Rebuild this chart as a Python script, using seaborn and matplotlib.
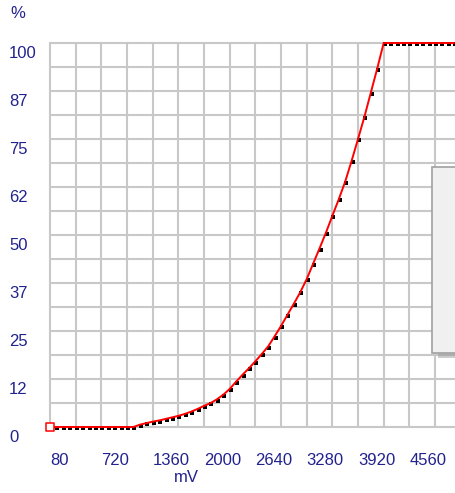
import matplotlib
matplotlib.use("Agg")
import matplotlib.pyplot as plt
import matplotlib.transforms as mtransforms
from matplotlib.patches import Rectangle
import pandas as pd
import seaborn as sns

# Transfer curve: output percentage versus input voltage (80 mV steps)
millivolts = list(range(80, 5121, 80))
percent = [
    0, 0, 0, 0, 0, 0, 0, 0, 0, 0, 0, 0, 0, 0,
    0.6, 1.0, 1.4, 1.7, 2.1, 2.5, 2.9, 3.4, 4.0, 4.7,
    5.5, 6.2, 7.2, 8.4, 9.9, 11.8, 13.6, 15.3, 17.1, 19.0,
    21.0, 23.6, 26.3, 29.2, 32.1, 35.1, 38.5, 42.5, 46.5, 50.6,
    55.0, 59.3, 63.9, 69.3, 75.0, 80.8, 87.1, 93.4, 100,
    100, 100, 100, 100, 100, 100, 100, 100, 100, 100, 100,
]

x_grid = list(range(80, 5121, 320))
y_grid = [i * 6.25 for i in range(17)]
x_labels = ["80", "720", "1360", "2000", "2640", "3280", "3920", "4560"]
x_label_pos = [80, 720, 1360, 2000, 2640, 3280, 3920, 4560]
y_labels = ["100", "87", "75", "62", "50", "37", "25", "12", "0"]
y_label_pos = [100, 87.5, 75, 62.5, 50, 37.5, 25, 12.5, 0]

df = pd.DataFrame({"mV": millivolts, "pct": percent})

sns.set_style("white")
plt.rcParams["font.family"] = ["Liberation Sans", "DejaVu Sans"]

W, H = 455, 493
fig = plt.figure(figsize=(W / 100, H / 100), dpi=100)
ax = fig.add_axes([50 / W, (H - 427) / H, (W - 50) / W, 384 / H])
ax.set_xlim(80, 5129)
ax.set_ylim(0, 100)

for s in ax.spines.values():
    s.set_visible(False)
ax.set_xticks(x_grid)
ax.set_yticks(y_grid)
ax.set_xticklabels([])
ax.set_yticklabels([])
ax.tick_params(length=0)
ax.grid(True, color="#c8c8c8", linewidth=1.5)
ax.set_axisbelow(True)
for gl in ax.get_xgridlines() + ax.get_ygridlines():
    gl.set_clip_on(False)

# black sample markers sit just below/right of the red trace
shadow = mtransforms.offset_copy(ax.transData, fig=fig, x=1, y=-1.2, units="dots")
sns.scatterplot(data=df, x="mV", y="pct", ax=ax, marker="s", s=5,
                color="black", linewidth=0, transform=shadow, zorder=3,
                clip_on=False, legend=False)
sns.lineplot(data=df, x="mV", y="pct", ax=ax, color="#ff0000",
             linewidth=1.4, zorder=4, clip_on=False)
sns.scatterplot(data=df.iloc[:1], x="mV", y="pct", ax=ax, marker="s", s=34,
                facecolor="white", edgecolor="#ff0000", linewidth=1.1,
                zorder=5, clip_on=False, legend=False)
ax.set_xlabel("")
ax.set_ylabel("")

text_color = "#22228e"
fs = 12
xt = mtransforms.offset_copy(ax.get_xaxis_transform(), fig=fig, x=0, y=-26, units="dots")
for pos, lab in zip(x_label_pos, x_labels):
    ax.text(pos, 0, lab, transform=xt, ha="left", va="top", fontsize=fs,
            color=text_color, clip_on=False)
yt = mtransforms.offset_copy(ax.get_yaxis_transform(), fig=fig, x=-41, y=-10.5, units="dots")
for pos, lab in zip(y_label_pos, y_labels):
    ax.text(0, pos, lab, transform=yt, ha="left", va="center", fontsize=fs,
            color=text_color, clip_on=False)

fig.text(10 / W, 1 - 14 / H, "%", ha="left", va="center", fontsize=fs, color=text_color)
fig.text(186 / W, 1 - 478 / H, "mV", ha="center", va="center", fontsize=fs, color=text_color)

# side panel overlapping the right edge of the chart
fig.patches.append(Rectangle((438 / W, (H - 358) / H), 30 / W, 5 / H,
                             transform=fig.transFigure, facecolor="#909090",
                             alpha=0.45, edgecolor="none", zorder=9))
fig.patches.append(Rectangle((432 / W, (H - 353) / H), 30 / W, 186 / H,
                             transform=fig.transFigure, facecolor="#f0f0f0",
                             edgecolor="#a0a0a0", linewidth=1.2, zorder=10))

fig.savefig("out.png", dpi=100)
